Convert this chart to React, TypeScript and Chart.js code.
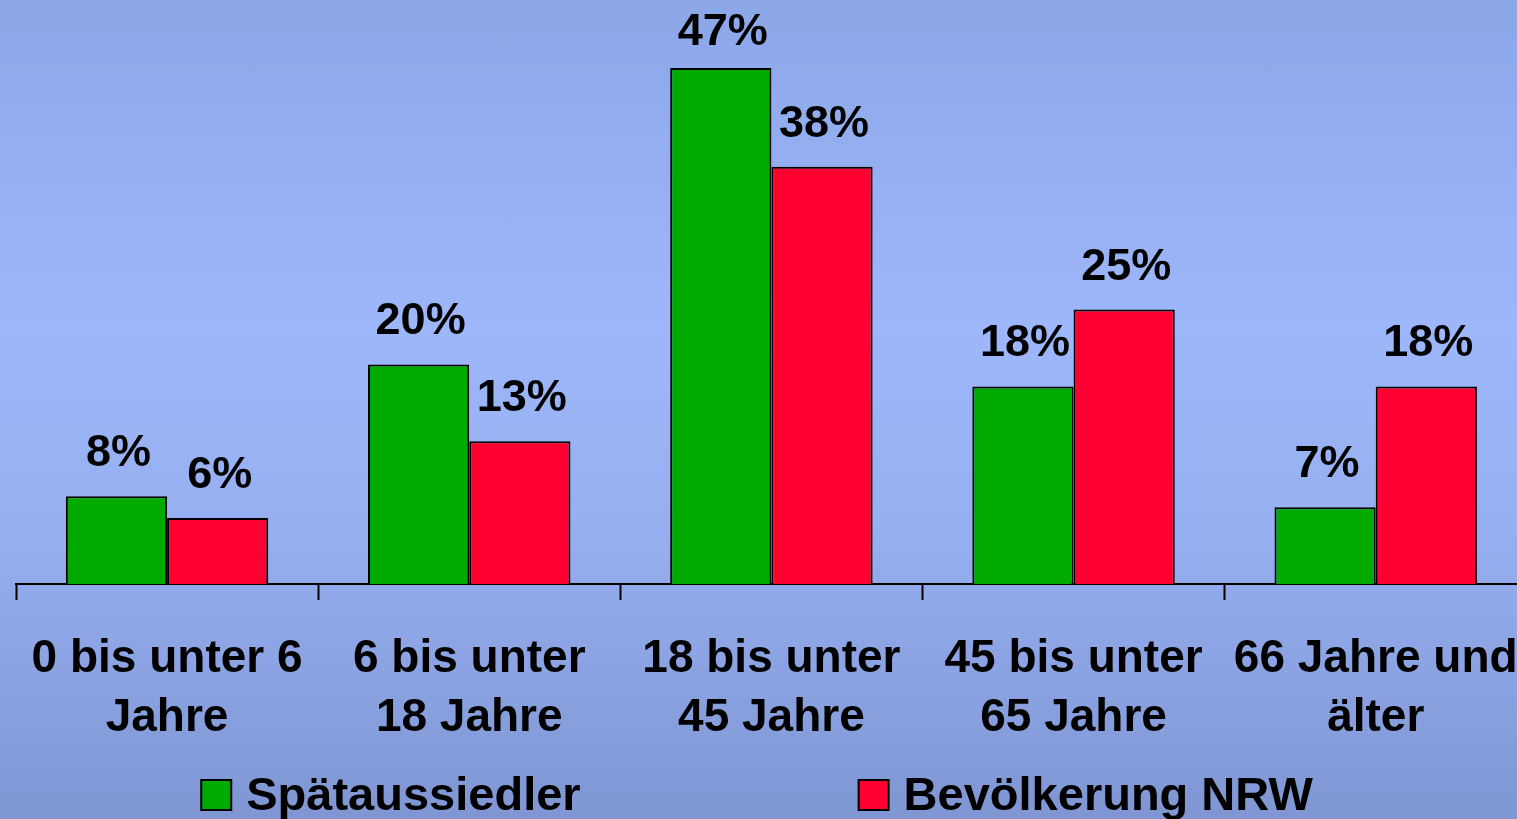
import React, { useEffect, useRef } from 'react';
import { Chart, registerables } from 'chart.js';

Chart.register(...registerables);

const categories: string[][] = [
  ['0 bis unter 6', 'Jahre'],
  ['6 bis unter', '18 Jahre'],
  ['18 bis unter', '45 Jahre'],
  ['45 bis unter', '65 Jahre'],
  ['66 Jahre und', 'älter'],
];
const spaetaussiedler = [8, 20, 47, 18, 7];
const bevoelkerungNRW = [6, 13, 38, 25, 18];
const seriesNames = ['Spätaussiedler', 'Bevölkerung NRW'];
const seriesColors = ['#00AA00', '#FF0030'];

const FONT = "'Liberation Sans', Arial, sans-serif";

const valueLabels = {
  id: 'valueLabels',
  afterDatasetsDraw(chart: any) {
    const ctx = chart.ctx;
    ctx.save();
    ctx.font = `bold 45px ${FONT}`;
    ctx.fillStyle = '#000';
    ctx.textAlign = 'center';
    ctx.textBaseline = 'alphabetic';
    chart.data.datasets.forEach((ds: any, i: number) => {
      const meta = chart.getDatasetMeta(i);
      meta.data.forEach((el: any, j: number) => {
        let y = el.y - 30;
        if (y < 45) y = 45;
        ctx.fillText(ds.data[j] + '%', el.x + 2, y);
      });
    });
    ctx.restore();
  },
};

const bottomLegend = {
  id: 'bottomLegend',
  afterDraw(chart: any) {
    const ctx = chart.ctx;
    ctx.save();
    ctx.font = `bold 47px ${FONT}`;
    const box = 30;
    const gapBoxText = 15;
    const gapItems = 278;
    const items = chart.data.datasets.map((ds: any) => ({
      text: ds.label,
      color: ds.backgroundColor,
      w: box + gapBoxText + ctx.measureText(ds.label).width,
    }));
    const total = items.reduce((s: number, it: any) => s + it.w, 0) + gapItems * (items.length - 1);
    let x = 757 - total / 2;
    const boxTop = chart.height - 39;
    const baseline = chart.height - 9;
    items.forEach((it: any) => {
      ctx.fillStyle = it.color;
      ctx.fillRect(x, boxTop, box, box);
      ctx.lineWidth = 2;
      ctx.strokeStyle = '#000';
      ctx.strokeRect(x, boxTop, box, box);
      ctx.fillStyle = '#000';
      ctx.textAlign = 'left';
      ctx.textBaseline = 'alphabetic';
      ctx.fillText(it.text, x + box + gapBoxText, baseline);
      x += it.w + gapItems;
    });
    ctx.restore();
  },
};

export default function App() {
  const ref = useRef<HTMLCanvasElement | null>(null);

  useEffect(() => {
    if (!ref.current) return;
    const chart = new Chart(ref.current, {
      type: 'bar',
      data: {
        labels: categories,
        datasets: [
          {
            label: seriesNames[0],
            data: spaetaussiedler,
            backgroundColor: seriesColors[0],
            borderColor: '#000',
            borderWidth: 2,
            categoryPercentage: 0.67,
            barPercentage: 1,
          },
          {
            label: seriesNames[1],
            data: bevoelkerungNRW,
            backgroundColor: seriesColors[1],
            borderColor: '#000',
            borderWidth: 2,
            categoryPercentage: 0.67,
            barPercentage: 1,
          },
        ],
      },
      options: {
        responsive: false,
        animation: false,
        layout: { padding: { left: 16, right: 14, top: 0, bottom: 41 } },
        plugins: {
          legend: { display: false },
          tooltip: { enabled: false },
        },
        scales: {
          x: {
            offset: true,
            grid: {
              offset: true,
              drawOnChartArea: false,
              drawTicks: true,
              tickLength: 16,
              tickWidth: 2,
              tickColor: '#000',
            },
            border: { display: true, color: '#000', width: 2 },
            ticks: {
              color: '#000',
              padding: 30,
              maxRotation: 0,
              minRotation: 0,
              autoSkip: false,
              font: { family: FONT, size: 46, weight: 'bold', lineHeight: 1.283 },
            },
          },
          y: { display: false, min: 0, max: 53.2 },
        },
      },
      plugins: [valueLabels, bottomLegend],
    } as any);
    return () => chart.destroy();
  }, []);

  return (
    <div
      style={{
        position: 'fixed',
        left: 0,
        top: 0,
        width: 1517,
        height: 819,
        overflow: 'hidden',
        background: 'linear-gradient(to bottom, #8ca7e8 0%, #9db7fa 40%, #96aff0 65%, #7f96d3 100%)',
      }}
    >
      <canvas ref={ref} width={1549} height={819} style={{ display: 'block' }} />
    </div>
  );
}
